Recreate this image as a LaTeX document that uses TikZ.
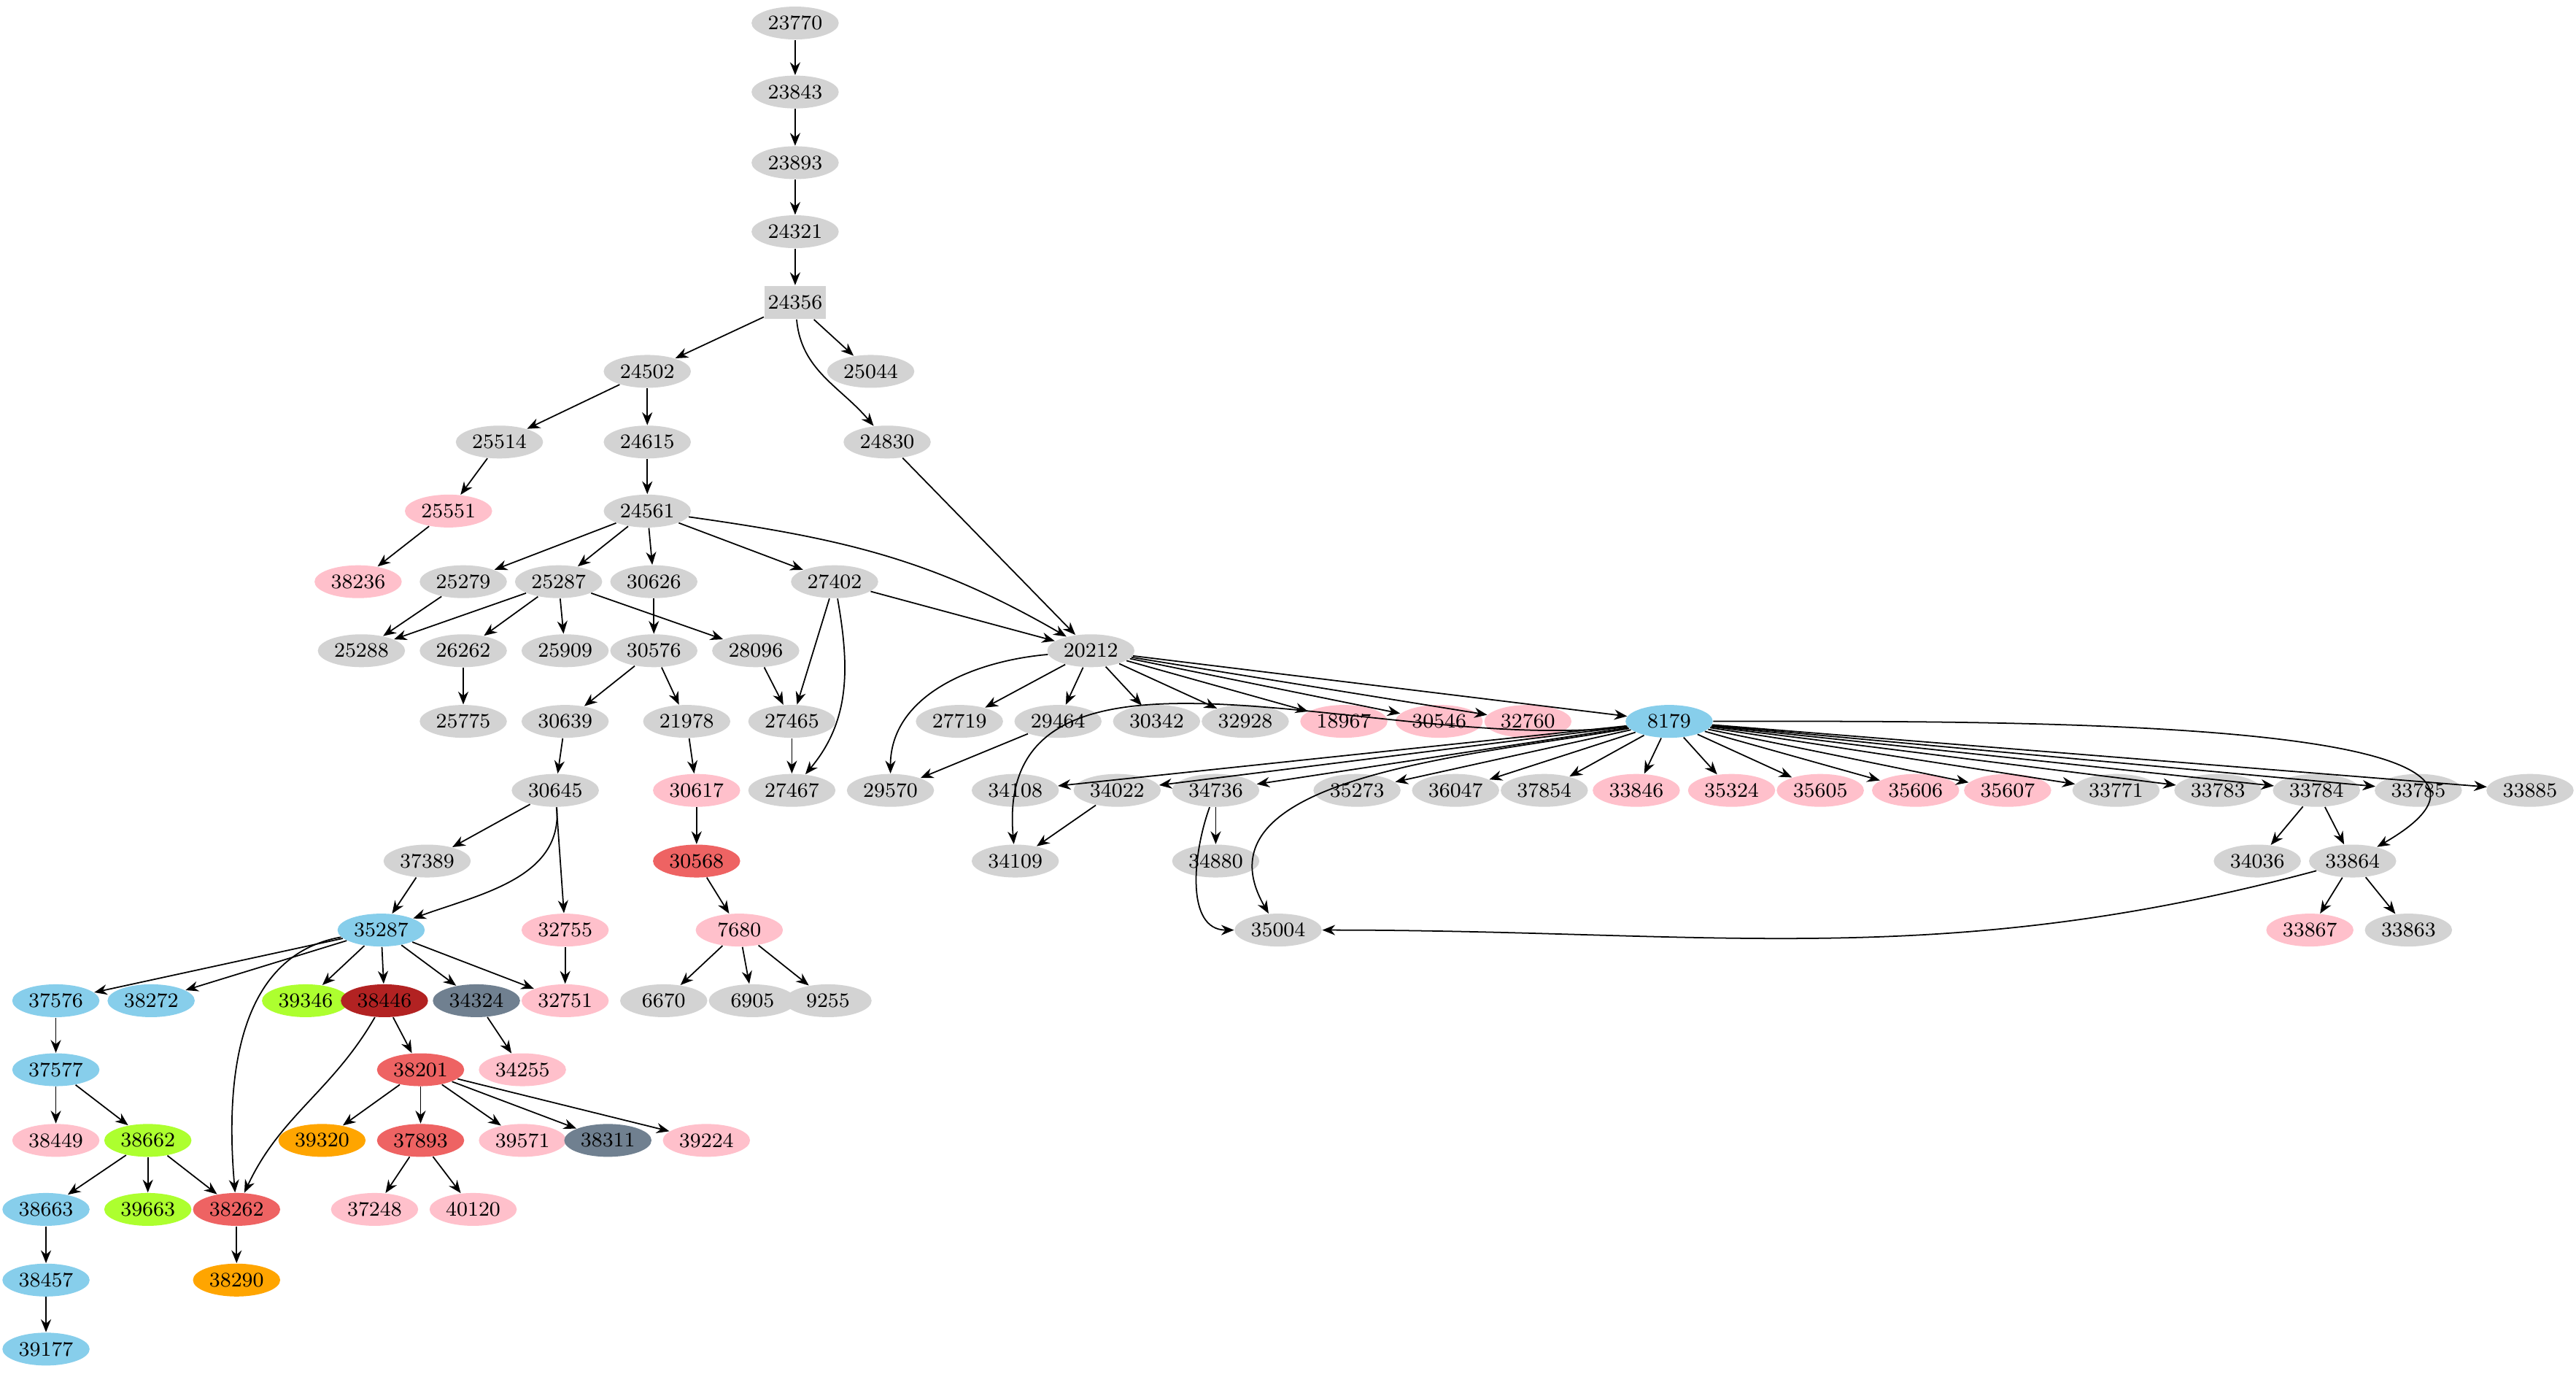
\documentclass[tikz,border=0pt]{standalone}
\usetikzlibrary{arrows.meta,shapes.geometric}
\begin{document}
\begin{tikzpicture}[x=0.0225cm,y=-0.0225cm,
 nd/.style={ellipse,minimum width=34pt,minimum height=12.8pt,inner sep=0pt,font=\fontsize{8}{9}\selectfont},
 cgray/.style={nd,fill={rgb,255:red,211;green,211;blue,211}},
 cpink/.style={nd,fill={rgb,255:red,255;green,192;blue,203}},
 csky/.style={nd,fill={rgb,255:red,135;green,206;blue,235}},
 cred/.style={nd,fill={rgb,255:red,238;green,99;blue,99}},
 cfire/.style={nd,fill={rgb,255:red,178;green,34;blue,34}},
 cslate/.style={nd,fill={rgb,255:red,112;green,128;blue,144}},
 cgreen/.style={nd,fill={rgb,255:red,173;green,255;blue,47}},
 corange/.style={nd,fill={rgb,255:red,255;green,165;blue,0}},
 cbox/.style={rectangle,minimum width=24pt,minimum height=13pt,inner sep=1pt,font=\fontsize{8}{9}\selectfont,fill={rgb,255:red,211;green,211;blue,211}},
 e/.style={-{Stealth[length=5pt,width=4pt]},line width=0.5pt}]
\useasboundingbox (0,0) rectangle (1568,836);
\node[cgray] (n23770) at (484,14) {23770};
\node[cgray] (n23843) at (484,56) {23843};
\node[cgray] (n23893) at (484,99) {23893};
\node[cgray] (n24321) at (484,141) {24321};
\node[cbox] (n24356) at (484,184) {24356};
\node[cgray] (n24502) at (394,226) {24502};
\node[cgray] (n25044) at (530,226) {25044};
\node[cgray] (n25514) at (304,269) {25514};
\node[cgray] (n24615) at (394,269) {24615};
\node[cgray] (n24830) at (540,269) {24830};
\node[cpink] (n25551) at (273,311) {25551};
\node[cgray] (n24561) at (394,311) {24561};
\node[cpink] (n38236) at (218,354) {38236};
\node[cgray] (n25279) at (282,354) {25279};
\node[cgray] (n25287) at (340,354) {25287};
\node[cgray] (n30626) at (398,354) {30626};
\node[cgray] (n27402) at (508,354) {27402};
\node[cgray] (n25288) at (220,396) {25288};
\node[cgray] (n26262) at (282,396) {26262};
\node[cgray] (n25909) at (344,396) {25909};
\node[cgray] (n30576) at (398,396) {30576};
\node[cgray] (n28096) at (460,396) {28096};
\node[cgray] (n20212) at (664,396) {20212};
\node[cgray] (n25775) at (282,439) {25775};
\node[cgray] (n30639) at (344,439) {30639};
\node[cgray] (n21978) at (418,439) {21978};
\node[cgray] (n27465) at (482,439) {27465};
\node[cgray] (n27719) at (584,439) {27719};
\node[cgray] (n29464) at (644,439) {29464};
\node[cgray] (n30342) at (704,439) {30342};
\node[cgray] (n32928) at (758,439) {32928};
\node[cpink] (n18967) at (818,439) {18967};
\node[cpink] (n30546) at (876,439) {30546};
\node[cpink] (n32760) at (930,439) {32760};
\node[csky] (n8179) at (1016,439) {8179};
\node[cgray] (n30645) at (338,481) {30645};
\node[cpink] (n30617) at (424,481) {30617};
\node[cgray] (n27467) at (482,481) {27467};
\node[cgray] (n29570) at (542,481) {29570};
\node[cgray] (n34108) at (618,481) {34108};
\node[cgray] (n34022) at (680,481) {34022};
\node[cgray] (n34736) at (740,481) {34736};
\node[cgray] (n35273) at (826,481) {35273};
\node[cgray] (n36047) at (886,481) {36047};
\node[cgray] (n37854) at (940,481) {37854};
\node[cpink] (n33846) at (996,481) {33846};
\node[cpink] (n35324) at (1054,481) {35324};
\node[cpink] (n35605) at (1108,481) {35605};
\node[cpink] (n35606) at (1166,481) {35606};
\node[cpink] (n35607) at (1222,481) {35607};
\node[cgray] (n33771) at (1288,481) {33771};
\node[cgray] (n33783) at (1350,481) {33783};
\node[cgray] (n33784) at (1410,481) {33784};
\node[cgray] (n33785) at (1472,481) {33785};
\node[cgray] (n33885) at (1540,481) {33885};
\node[cgray] (n37389) at (260,524) {37389};
\node[cred] (n30568) at (424,524) {30568};
\node[cgray] (n34109) at (618,524) {34109};
\node[cgray] (n34880) at (740,524) {34880};
\node[cgray] (n34036) at (1374,524) {34036};
\node[cgray] (n33864) at (1432,524) {33864};
\node[csky] (n35287) at (232,566) {35287};
\node[cpink] (n32755) at (344,566) {32755};
\node[cpink] (n7680) at (450,566) {7680};
\node[cgray] (n35004) at (778,566) {35004};
\node[cpink] (n33867) at (1406,566) {33867};
\node[cgray] (n33863) at (1466,566) {33863};
\node[csky] (n37576) at (34,609) {37576};
\node[csky] (n38272) at (92,609) {38272};
\node[cgreen] (n39346) at (186,609) {39346};
\node[cfire] (n38446) at (234,609) {38446};
\node[cslate] (n34324) at (290,609) {34324};
\node[cpink] (n32751) at (344,609) {32751};
\node[cgray] (n6670) at (404,609) {6670};
\node[cgray] (n6905) at (458,609) {6905};
\node[cgray] (n9255) at (504,609) {9255};
\node[csky] (n37577) at (34,651) {37577};
\node[cred] (n38201) at (256,651) {38201};
\node[cpink] (n34255) at (318,651) {34255};
\node[cpink] (n38449) at (34,694) {38449};
\node[cgreen] (n38662) at (90,694) {38662};
\node[corange] (n39320) at (196,694) {39320};
\node[cred] (n37893) at (256,694) {37893};
\node[cpink] (n39571) at (318,694) {39571};
\node[cslate] (n38311) at (370,694) {38311};
\node[cpink] (n39224) at (430,694) {39224};
\node[csky] (n38663) at (28,736) {38663};
\node[cgreen] (n39663) at (90,736) {39663};
\node[cred] (n38262) at (144,736) {38262};
\node[cpink] (n37248) at (228,736) {37248};
\node[cpink] (n40120) at (288,736) {40120};
\node[csky] (n38457) at (28,779) {38457};
\node[corange] (n38290) at (144,779) {38290};
\node[csky] (n39177) at (28,821) {39177};
\foreach \a/\b in {23770/23843,23843/23893,23893/24321,24321/24356,24356/24502,24356/25044,
 24502/25514,24502/24615,25514/25551,25551/38236,24615/24561,24830/20212,
 24561/25279,24561/25287,24561/30626,24561/27402,25279/25288,25287/25288,25287/26262,
 25287/25909,25287/28096,30626/30576,27402/27465,27402/20212,26262/25775,30576/30639,
 30576/21978,28096/27465,20212/27719,20212/29464,20212/30342,20212/32928,20212/18967,
 20212/30546,20212/32760,20212/8179,30639/30645,21978/30617,27465/27467,29464/29570,
 30645/37389,30645/32755,30617/30568,30568/7680,
 8179/34108,8179/34022,8179/34736,8179/35273,8179/36047,8179/37854,8179/33846,8179/35324,
 8179/35605,8179/35606,8179/35607,8179/33771,8179/33783,8179/33784,8179/33785,8179/33885,
 34022/34109,34736/34880,33784/34036,33784/33864,33864/33867,33864/33863,
 37389/35287,32755/32751,7680/6670,7680/6905,7680/9255,
 35287/37576,35287/38272,35287/39346,35287/38446,35287/34324,35287/32751,
 37576/37577,38446/38201,34324/34255,37577/38449,37577/38662,
 38201/39320,38201/37893,38201/39571,38201/38311,38201/39224,
 38662/38663,38662/39663,38662/38262,37893/37248,37893/40120,
 38663/38457,38457/39177,38262/38290}
 \draw[e] (n\a) -- (n\b);
\draw[e] (n24356) to[out=-85,in=130] (n24830);
\draw[e] (n24561) to[out=-8,in=150] (n20212);
\draw[e] (n27402) to[out=-80,in=50] (n27467);
\draw[e] (n20212) to[out=185,in=90] (n29570);
\draw[e] (n8179) to[out=187,in=95] (n34109);
\draw[e] (n8179) to[out=190,in=120] (n35004);
\draw[e] (n8179) to[out=0,in=30] (n33864);
\draw[e] (n34736) to[out=-110,in=180] (n35004);
\draw[e] (n33864) to[out=195,in=0] (n35004);
\draw[e] (n30645) to[out=-85,in=20] (n35287);
\draw[e] (n35287) to[out=190,in=95] (n38262);
\draw[e] (n38446) to[out=-120,in=65] (n38262);
\end{tikzpicture}
\end{document}
